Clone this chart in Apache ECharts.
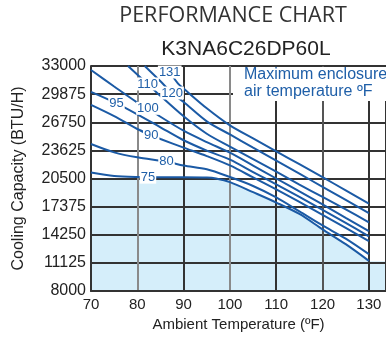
<!DOCTYPE html>
<html><head><meta charset="utf-8">
<script src="https://cdn.jsdelivr.net/npm/echarts@6/dist/echarts.min.js"></script>
<style>html,body{margin:0;padding:0;background:#fff}#c{width:386px;height:338px}</style>
</head><body><div id="c"></div>
<script>
// ---- data ----
const BASE = 8000;               // bottom of the capacity axis (BTU/H)
const yTickLabels = [8000, 11125, 14250, 17375, 20500, 23625, 26750, 29875, 33000];
const xTickLabels = [70, 80, 90, 100, 110, 120, 130];

// Curves: ambient temperature (°F) and cooling capacity (BTU/H)
const t75  = [70, 75, 80, 82.3, 85, 90, 95, 97, 100, 105, 110, 115, 120, 125, 130];
const c75  = [21160, 20780, 20660, 20650, 20640, 20640, 20610, 20500, 20100, 18980, 17830, 16560, 14850, 13200, 11350];
const t80  = [70, 75, 80, 86.3, 90, 95, 100, 105, 110, 115, 120, 125, 130];
const c80  = [24335, 23405, 22850, 22380, 21940, 21520, 20660, 19670, 18400, 16850, 15280, 13820, 12090];
const t90  = [70, 75, 80, 83, 85, 90, 95, 100, 105, 110, 115, 120, 125, 130];
const c90  = [28680, 27430, 26000, 25300, 24890, 23930, 22990, 21950, 20620, 19280, 17900, 16460, 15020, 13530];
const t95  = [70, 75.5, 80, 85, 90, 95, 100, 105, 110, 115, 120, 125, 130];
const c95  = [30120, 28850, 27630, 26190, 24750, 23600, 22600, 21220, 19840, 18460, 17020, 15580, 14080];
const t100 = [70, 75, 80, 82.3, 85, 90, 95, 100, 105, 110, 115, 120, 125, 130];
const c100 = [32550, 30720, 28940, 28300, 27360, 25810, 24540, 23370, 21940, 20500, 19060, 17620, 16130, 14640];
const t110 = [78, 82.2, 84, 90, 95, 100, 105, 110, 115, 120, 125, 130];
const c110 = [33000, 31000, 30150, 27410, 25470, 24040, 22650, 21270, 19830, 18450, 17070, 15630];
const t120 = [81.6, 85, 87.5, 90, 95, 100, 105, 110, 115, 120, 125, 130];
const c120 = [33000, 31300, 30000, 29000, 26850, 25390, 23930, 22490, 21050, 19560, 18120, 16660];
const t131 = [87, 88.8, 90, 95, 100, 105, 110, 115, 120, 125, 130];
const c131 = [32330, 31040, 30490, 28300, 26400, 24950, 23520, 22090, 20650, 19180, 17700];

// temperature at which each curve's label sits
const curveNames  = ['75', '80', '90', '95', '100', '110', '120', '131'];
const labelTemps  = [82.3, 86.3, 83, 75.5, 82.3, 82.2, 87.5, 87];

// light-blue operating region (top edge)
const fillT = [70, 96, 97, 100, 105, 110, 115, 120, 125, 130, 133.7];
const fillC = [20500, 20500, 20480, 20100, 18980, 17830, 16560, 14850, 13200, 11300, 11300];

// ---- build ----
const curveT = [t75, t80, t90, t95, t100, t110, t120, t131];
const curveC = [c75, c80, c90, c95, c100, c110, c120, c131];
const LINE = '#1b5aa5', TXT = '#1f5fa8', FILL = '#d5eefa';
const F = 'Liberation Sans, Arial, sans-serif';

const pairs = (t, c) => t.map((x, i) => [x, c[i] - BASE]);
const series = [{
  type: 'line', data: pairs(fillT, fillC), symbol: 'none', z: -1,
  lineStyle: { width: 0 }, areaStyle: { color: FILL, opacity: 1 }, silent: true
}];
curveT.forEach((t, k) => {
  series.push({ type: 'line', name: curveNames[k], data: pairs(t, curveC[k]), symbol: 'none',
    smooth: 0.3, lineStyle: { color: LINE, width: 2 }, z: 3, silent: true });
});
const labelData = curveNames.map((n, k) => {
  const i = curveT[k].indexOf(labelTemps[k]);
  return [curveT[k][i], curveC[k][i] - BASE, n];
});
series.push({
  type: 'scatter', data: labelData, symbolSize: 1, z: 6, silent: true,
  itemStyle: { color: 'rgba(0,0,0,0)' },
  label: { show: true, position: 'inside', formatter: p => p.value[2], color: TXT, opacity: 1,
    fontSize: 13, fontFamily: F, backgroundColor: '#fff', padding: [0, 1], lineHeight: 13 }
});

const chart = echarts.init(document.getElementById('c'), null, { renderer: 'canvas' });
chart.setOption({
  animation: false,
  backgroundColor: '#fff',
  grid: { left: 91, right: 0, top: 66, bottom: 47, containLabel: false, outerBoundsMode: 'none' },
  xAxis: {
    type: 'value', min: 70, max: 133.7, interval: 10,
    name: 'Ambient Temperature (ºF)', nameLocation: 'middle', nameGap: 26,
    nameTextStyle: { fontSize: 15, color: '#222', fontFamily: F },
    axisLine: { show: true, lineStyle: { color: '#333', width: 2 } },
    axisTick: { show: false },
    axisLabel: { fontSize: 15, color: '#222', fontFamily: F, margin: 6,
      formatter: v => (xTickLabels.indexOf(v) >= 0 ? String(v) : '') },
    splitLine: { show: true, lineStyle: { width: 2,
      color: ['#333', '#8a8a8a', '#333', '#8a8a8a', '#333', '#555', '#333', '#333'] } }
  },
  yAxis: {
    type: 'value', min: 0, max: yTickLabels[yTickLabels.length - 1] - BASE, interval: 3125,
    name: 'Cooling Capacity (BTU/H)', nameLocation: 'middle', nameGap: 64, nameRotate: 90,
    nameTextStyle: { fontSize: 16, color: '#222', fontFamily: F },
    axisLine: { show: true, lineStyle: { color: '#333', width: 2 } },
    axisTick: { show: false },
    axisLabel: { fontSize: 16, color: '#222', fontFamily: F, margin: 5,
      formatter: v => String(v + BASE) },
    splitLine: { show: true, lineStyle: { color: '#333', width: 2 } }
  },
  series: series,
  graphic: { elements: [
    { type: 'text', z: 10, style: { text: 'PERFORMANCE CHART', x: 233, y: 15.5, align: 'center',
      verticalAlign: 'middle', font: '21.5px "Open Sans", sans-serif', fill: '#333' } },
    { type: 'text', z: 10, style: { text: 'K3NA6C26DP60L', x: 246, y: 49.5, align: 'center',
      verticalAlign: 'middle', font: '21px "Liberation Sans", Arial, sans-serif', fill: '#222' } },
    { type: 'rect', z: 9, shape: { x: 233, y: 67, width: 153, height: 34 }, style: { fill: '#fff' } },
    { type: 'text', z: 10, style: { text: 'Maximum enclosure\nair temperature ºF', x: 244, y: 66,
      align: 'left', verticalAlign: 'top', font: '16px "Liberation Sans", Arial, sans-serif',
      lineHeight: 17, fill: TXT } }
  ] }
});
</script></body></html>
